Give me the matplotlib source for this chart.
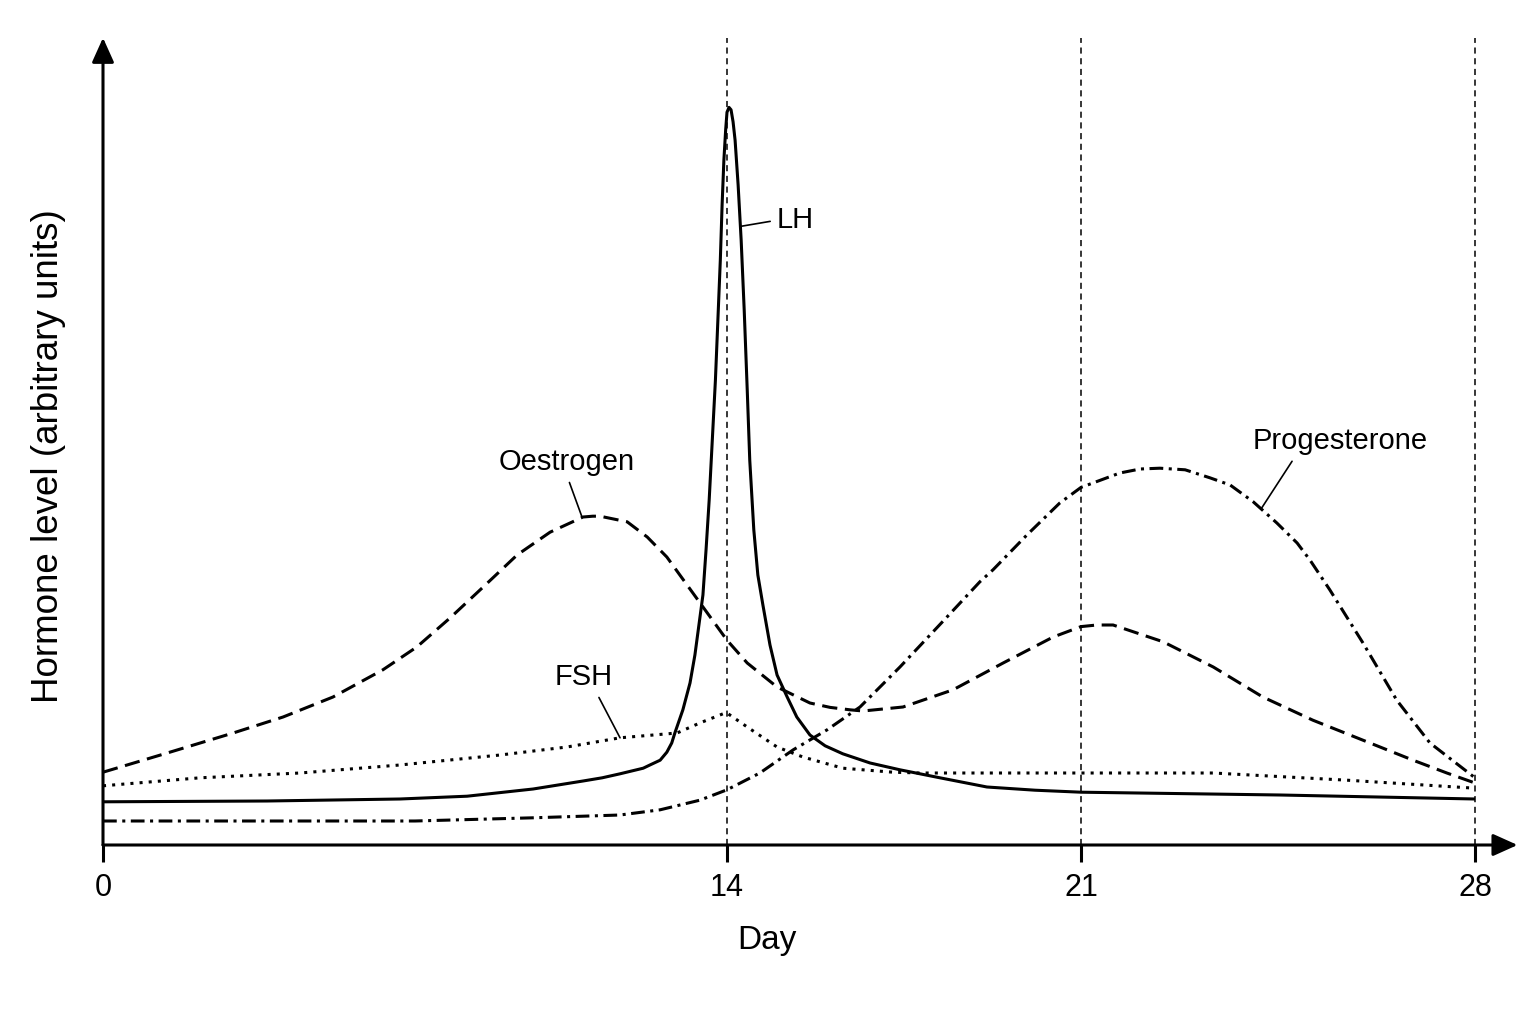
import numpy as np
import matplotlib
matplotlib.use("Agg")
import matplotlib.pyplot as plt

plt.rcParams['font.family'] = ['Liberation Sans', 'DejaVu Sans']

# day of cycle -> hormone level (arbitrary units)
days_lh = [0, 3.68, 6.66, 8.17, 9.65, 10.77, 11.20, 11.60, 12.12, 12.27, 12.50, 12.65,
           12.76, 12.83, 13.01, 13.17, 13.28, 13.37, 13.46, 13.53, 13.60, 13.67, 13.74,
           13.80, 13.85, 13.89, 13.93, 13.97, 14.0, 14.04, 14.08, 14.12, 14.16, 14.22,
           14.28, 14.34, 14.40, 14.45, 14.53, 14.61, 14.71, 14.85, 14.99, 15.19, 15.38,
           15.64, 15.94, 16.29, 16.83, 17.42, 18.21, 19.14, 20.09, 21.0, 24.54, 28.0]
lh = [5.4, 5.5, 5.75, 6.1, 7.0, 8.0, 8.4, 8.9, 9.6, 10.0, 10.6, 11.6,
      12.75, 14.0, 16.9, 20.25, 23.75, 27.5, 31.25, 36.9, 43.1, 50.6, 58.1,
      66.25, 73.1, 80.0, 85.6, 89.4, 91.6, 92.2, 91.9, 90.4, 88.1, 82.5,
      75.6, 66.9, 56.9, 48.1, 39.4, 33.75, 30.0, 25.0, 21.25, 18.5, 16.0,
      13.75, 12.4, 11.4, 10.25, 9.4, 8.4, 7.25, 6.85, 6.6, 6.25, 5.75]

days_oe = [0, 1.44, 2.92, 4.04, 5.16, 6.28, 7.04, 7.79, 8.53, 9.29, 10.03, 10.77, 10.99,
           11.15, 11.76, 12.21, 12.65, 13.39, 14.0, 14.40, 14.99, 15.64, 16.04, 16.43,
           16.69, 17.48, 18.47, 19.46, 20.45, 21.0, 21.28, 21.57, 22.46, 23.35, 24.23,
           25.12, 26.01, 26.90, 27.50, 28.0]
oestrogen = [9.1, 11.5, 14.0, 16.0, 18.5, 21.9, 24.75, 28.4, 32.25, 36.25, 39.1, 41.0, 41.1,
             41.1, 40.4, 38.5, 36.0, 30.3, 25.6, 22.75, 19.75, 17.75, 17.2, 16.9,
             16.75, 17.25, 19.4, 22.75, 26.0, 27.3, 27.5, 27.5, 25.4, 22.25, 18.5,
             15.6, 13.1, 10.6, 9.0, 7.75]

days_pg = [0, 7.0, 9.65, 11.60, 12.50, 13.39, 14.0, 14.65, 15.31, 15.98, 16.63, 17.42,
           18.35, 19.00, 19.26, 19.93, 20.58, 21.0, 21.69, 22.05, 22.40, 22.85, 23.29,
           23.65, 24.06, 24.48, 24.84, 25.07, 25.42, 26.01, 26.61, 27.20, 28.0]
progesterone = [3.0, 3.0, 3.4, 3.75, 4.4, 5.6, 6.9, 9.0, 11.9, 14.4, 17.25, 22.25,
                28.5, 32.9, 34.4, 38.75, 42.75, 44.7, 46.5, 47.0, 47.1, 46.9, 45.9,
                45.0, 42.9, 40.25, 37.75, 35.6, 31.9, 25.25, 18.1, 12.75, 8.4]

days_fsh = [0, 2.18, 4.42, 6.66, 8.91, 10.41, 11.60, 12.88, 13.39, 13.91, 14.0, 14.40,
            14.99, 15.50, 16.29, 17.28, 17.82, 21.0, 23.35, 25.73, 28.0]
fsh = [7.4, 8.4, 9.0, 10.0, 11.25, 12.25, 13.4, 14.0, 15.25, 16.4, 16.5, 14.75,
       12.25, 11.0, 9.6, 9.1, 9.0, 9.0, 9.0, 8.1, 7.1]

tick_days = [0, 14, 21, 28]
marker_days = [14, 21, 28]

# the drawing is not to scale: each part of the cycle gets its own width
scale_days = [0, 14, 21, 28]
scale_pos = [0, 624, 978, 1372]


def fwd(d):
    d = np.asarray(d, dtype=float)
    return (np.interp(d, scale_days, scale_pos)
            + np.where(d > 28, (d - 28) * 56.3, 0) + np.where(d < 0, d * 44.6, 0))


def inv(p):
    p = np.asarray(p, dtype=float)
    return (np.interp(p, scale_pos, scale_days)
            + np.where(p > 1372, (p - 1372) / 56.3, 0) + np.where(p < 0, p / 44.6, 0))


fig = plt.figure(figsize=(15.36, 10.24), dpi=100)
ax = fig.add_axes([103 / 1536, 179 / 1024, 1372 / 1536, 800 / 1024])
ax.set_xscale('function', functions=(fwd, inv))
ax.set_xlim(0, 28)
ax.set_ylim(0, 100)

lw = 2.2
ax.plot(days_lh, lh, color='black', lw=lw, solid_joinstyle='round')
ax.plot(days_oe, oestrogen, color='black', lw=lw, ls=(0, (5, 2.5)))
ax.plot(days_pg, progesterone, color='black', lw=lw, ls=(0, (4.5, 1.8, 1, 1.8)))
ax.plot(days_fsh, fsh, color='black', lw=lw, ls=(0, (1, 2)))

for d in marker_days:
    ax.axvline(d, ymin=0, ymax=1.009, color='black', lw=1.1, ls=(0, (4, 3)), clip_on=False)

for s in ax.spines.values():
    s.set_visible(False)

head = dict(arrowstyle='-|>,head_length=1.0,head_width=0.45', mutation_scale=15,
            lw=lw, color='black', shrinkA=0, shrinkB=0)
ax.annotate('', xy=(0, 1.009), xytext=(0, 0), xycoords='axes fraction', arrowprops=head)
ax.annotate('', xy=(1.031, 0), xytext=(0, 0), xycoords='axes fraction', arrowprops=head)

ax.set_xticks(tick_days)
ax.set_xticklabels([str(d) for d in tick_days])
ax.xaxis.set_minor_locator(matplotlib.ticker.NullLocator())
ax.tick_params(axis='x', length=12, width=lw, pad=8, labelsize=22)
ax.set_yticks([])

ax.set_xlabel('Day', fontsize=24)
ax.xaxis.set_label_coords(0.484, -0.100)
ax.set_ylabel('Hormone level (arbitrary units)', fontsize=26.5)
ax.yaxis.label.set_va('center')
ax.yaxis.set_label_coords(-0.0394, 0.486)

# curve labels with leader lines: (text day, text level, ha, relpos, day on curve)
labels = [
    ('LH', days_lh, lh, 14.99, 78.1, 'left', (0, 0.5), 14.265),
    ('Oestrogen', days_oe, oestrogen, 10.41, 47.9, 'center', (0.5, 0), 10.75),
    ('FSH', days_fsh, fsh, 10.79, 21.0, 'center', (0.7, 0), 11.60),
    ('Progesterone', days_pg, progesterone, 25.60, 50.5, 'center', (0.25, 0), 24.20),
]
for name, dx, vy, tx, ty, ha, rp, cd in labels:
    ax.annotate(name, xy=(cd, np.interp(cd, dx, vy)), xytext=(tx, ty),
                ha=ha, va='center', fontsize=21,
                arrowprops=dict(arrowstyle='-', lw=1.2, color='black',
                                relpos=rp, shrinkA=3, shrinkB=0))

fig.savefig('out.png', dpi=100, facecolor='white')
